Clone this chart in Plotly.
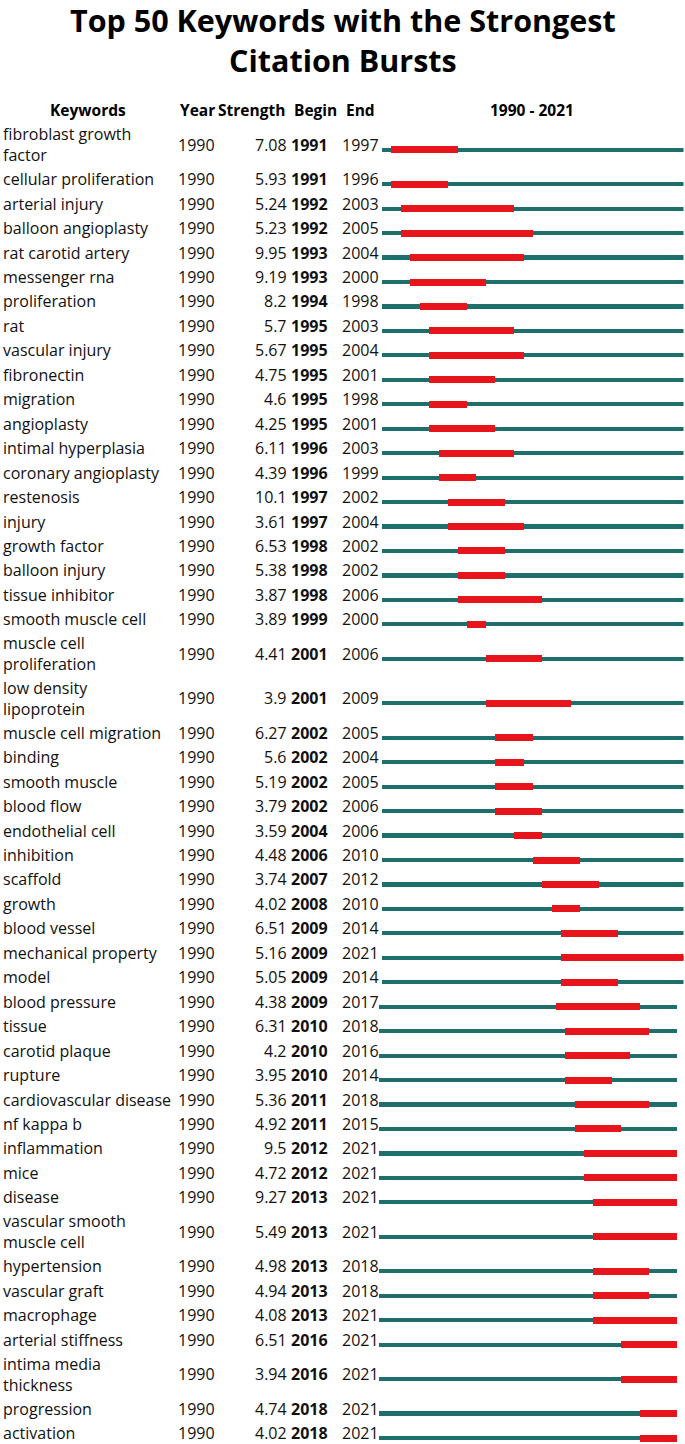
import plotly.graph_objects as go

# ---------------- data ----------------
keywords = [
    "fibroblast growth<br>factor", "cellular proliferation", "arterial injury", "balloon angioplasty",
    "rat carotid artery", "messenger rna", "proliferation", "rat", "vascular injury", "fibronectin",
    "migration", "angioplasty", "intimal hyperplasia", "coronary angioplasty", "restenosis", "injury",
    "growth factor", "balloon injury", "tissue inhibitor", "smooth muscle cell",
    "muscle cell<br>proliferation", "low density<br>lipoprotein", "muscle cell migration", "binding",
    "smooth muscle", "blood flow", "endothelial cell", "inhibition", "scaffold", "growth",
    "blood vessel", "mechanical property", "model", "blood pressure", "tissue", "carotid plaque",
    "rupture", "cardiovascular disease", "nf kappa b", "inflammation", "mice", "disease",
    "vascular smooth<br>muscle cell", "hypertension", "vascular graft", "macrophage",
    "arterial stiffness", "intima media<br>thickness", "progression", "activation",
]
year = [1990] * 50
strength = [
    "7.08", "5.93", "5.24", "5.23", "9.95", "9.19", "8.2", "5.7", "5.67", "4.75",
    "4.6", "4.25", "6.11", "4.39", "10.1", "3.61", "6.53", "5.38", "3.87", "3.89",
    "4.41", "3.9", "6.27", "5.6", "5.19", "3.79", "3.59", "4.48", "3.74", "4.02",
    "6.51", "5.16", "5.05", "4.38", "6.31", "4.2", "3.95", "5.36", "4.92", "9.5",
    "4.72", "9.27", "5.49", "4.98", "4.94", "4.08", "6.51", "3.94", "4.74", "4.02",
]
begin = [
    1991, 1991, 1992, 1992, 1993, 1993, 1994, 1995, 1995, 1995,
    1995, 1995, 1996, 1996, 1997, 1997, 1998, 1998, 1998, 1999,
    2001, 2001, 2002, 2002, 2002, 2002, 2004, 2006, 2007, 2008,
    2009, 2009, 2009, 2009, 2010, 2010, 2010, 2011, 2011, 2012,
    2012, 2013, 2013, 2013, 2013, 2013, 2016, 2016, 2018, 2018,
]
end = [
    1997, 1996, 2003, 2005, 2004, 2000, 1998, 2003, 2004, 2001,
    1998, 2001, 2003, 1999, 2002, 2004, 2002, 2002, 2006, 2000,
    2006, 2009, 2005, 2004, 2005, 2006, 2006, 2010, 2012, 2010,
    2014, 2021, 2014, 2017, 2018, 2016, 2014, 2018, 2015, 2021,
    2021, 2021, 2021, 2018, 2018, 2021, 2021, 2021, 2021, 2021,
]
span_start, span_end = 1990, 2021
headers = ["Keywords", "Year", "Strength", "Begin", "End", "1990 - 2021"]
title_text = "Top 50 Keywords with the Strongest<br>Citation Bursts"

# ---------------- layout constants ----------------
W, H = 685, 1444
FONT = "Open Sans"
FS = 16
HFS = 15.5
TEAL = "#1e6e6c"
RED = "#e8141c"
ROW1, ROW2, TOP = 24.45, 44.5, 122.5
SPLIT = 33  # rows from here use the second (slightly shifted) timeline

def px(x):
    return x / W

def py(y):
    return 1 - y / H

# row centres
centers = []
cur = TOP
for k in keywords:
    h = ROW2 if "<br>" in k else ROW1
    centers.append(cur + h / 2)
    cur += h
bar_y = [c + 5 for c in centers]

fig = go.Figure()

for axis, sl in (("x2", slice(0, SPLIT)), ("x3", slice(SPLIT, None))):
    ys = bar_y[sl]
    n = len(ys)
    fig.add_trace(go.Bar(
        orientation="h", y=ys, base=[span_start] * n, x=[span_end + 1 - span_start] * n,
        width=4.2, marker=dict(color=TEAL, line=dict(width=0)), xaxis=axis, yaxis="y",
        hoverinfo="skip", showlegend=False))
    b = begin[sl]
    e = end[sl]
    fig.add_trace(go.Bar(
        orientation="h", y=ys, base=b, x=[ee + 1 - bb for bb, ee in zip(b, e)],
        width=7, marker=dict(color=RED, line=dict(width=0)), xaxis=axis, yaxis="y",
        hoverinfo="skip", showlegend=False))

ann = []
def add(text, x, y, anchor="left", size=FS, bold=False, color="#111", align="left"):
    ann.append(dict(text=text, x=px(x), y=py(y), xref="paper", yref="paper",
                    xanchor=anchor, yanchor="middle", showarrow=False, align=align,
                    borderpad=0, borderwidth=0,
                    font=dict(family=FONT, size=size, color=color,
                              weight="bold" if bold else "normal")))

# title
add(title_text, W / 2, 40, anchor="center", size=30.5, bold=True, color="#000", align="center")

# headers
hy = 110
add(headers[0], 88, hy, anchor="center", size=HFS, bold=True, color="#000")
add(headers[1], 197, hy, anchor="center", size=HFS, bold=True, color="#000")
add(headers[2], 252, hy, anchor="center", size=HFS, bold=True, color="#000")
add(headers[3], 315, hy, anchor="center", size=HFS, bold=True, color="#000")
add(headers[4], 360, hy, anchor="center", size=HFS, bold=True, color="#000")
add(headers[5], 532, hy, anchor="center", size=HFS, bold=True, color="#000")

for i, k in enumerate(keywords):
    y = centers[i]
    add(k, 3, y)
    add(str(year[i]), 178, y)
    add(strength[i], 287, y, anchor="right")
    add(str(begin[i]), 291, y, bold=True)
    add(str(end[i]), 342, y)

fig.update_layout(
    width=W, height=H, margin=dict(l=0, r=0, t=0, b=0),
    paper_bgcolor="white", plot_bgcolor="rgba(0,0,0,0)",
    barmode="overlay", bargap=0,
    annotations=ann,
    xaxis=dict(visible=False, range=[0, W], domain=[0, 1]),
    yaxis=dict(visible=False, range=[H, 0], domain=[0, 1], fixedrange=True),
    xaxis2=dict(visible=False, range=[span_start, span_end + 1],
                domain=[381.5 / W, 683.5 / W], anchor="y"),
    xaxis3=dict(visible=False, range=[span_start, span_end + 1],
                domain=[379 / W, 677 / W], anchor="y"),
)

fig.write_html("out.html", config={"displayModeBar": False},
               post_script="document.body.style.margin='0';")
